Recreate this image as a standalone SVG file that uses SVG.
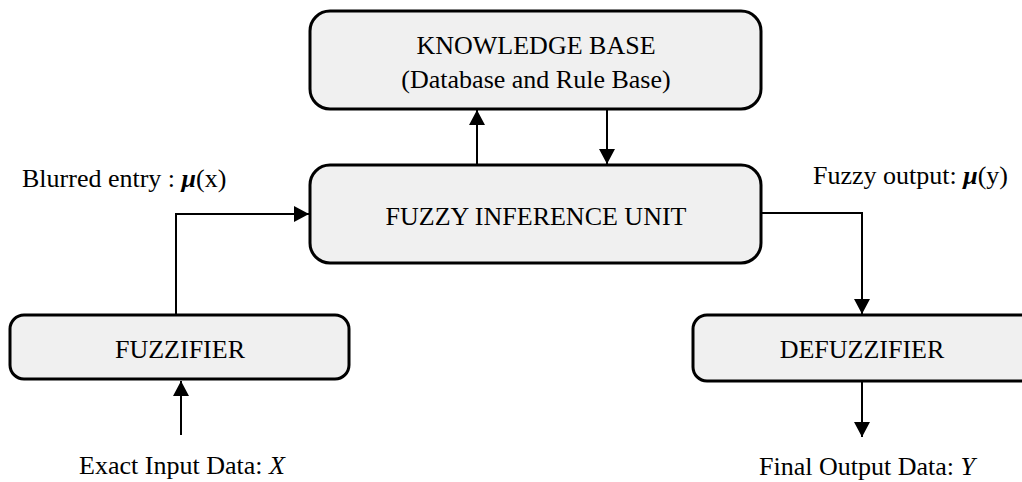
<svg xmlns="http://www.w3.org/2000/svg" width="1022" height="482" viewBox="0 0 1022 482">
  <style>
    .box { fill: #f0f0f0; stroke: #000; stroke-width: 3; }
    .wire { fill: none; stroke: #000; stroke-width: 2; }
    text { font-family: "Liberation Serif", "Times New Roman", serif; font-size: 26px; fill: #000; }
    .c { text-anchor: middle; }
    .mu { font-weight: bold; font-style: italic; }
    .it { font-style: italic; }
  </style>
  <defs>
    <marker id="arrow" markerUnits="userSpaceOnUse" markerWidth="16" markerHeight="16" refX="15" refY="8" orient="auto">
      <path d="M0,0 L15,8 L0,16 Z" fill="#000"/>
    </marker>
  </defs>
  <rect width="1022" height="482" fill="#fff"/>

  <g id="knowledge-base">
    <rect class="box" x="310" y="11" width="451" height="98" rx="20"/>
    <text class="c" x="536" y="54">KNOWLEDGE BASE</text>
    <text class="c" x="536" y="88">(Database and Rule Base)</text>
  </g>

  <g id="inference-unit">
    <rect class="box" x="310" y="165" width="451" height="98" rx="20"/>
    <text class="c" x="536" y="225">FUZZY INFERENCE UNIT</text>
  </g>

  <g id="fuzzifier">
    <rect class="box" x="10" y="315" width="339" height="64" rx="14"/>
    <text class="c" x="180" y="358">FUZZIFIER</text>
  </g>

  <g id="defuzzifier">
    <rect class="box" x="693" y="315" width="345" height="66" rx="14"/>
    <text class="c" x="862" y="358">DEFUZZIFIER</text>
  </g>

  <g id="connectors">
    <line class="wire" x1="181" y1="435" x2="181" y2="381" marker-end="url(#arrow)"/>
    <path class="wire" d="M176,315 V214 H309" marker-end="url(#arrow)"/>
    <line class="wire" x1="477" y1="165" x2="477" y2="110" marker-end="url(#arrow)"/>
    <line class="wire" x1="607" y1="109" x2="607" y2="164" marker-end="url(#arrow)"/>
    <path class="wire" d="M761,213 H862 V314" marker-end="url(#arrow)"/>
    <line class="wire" x1="862" y1="381" x2="862" y2="437" marker-end="url(#arrow)"/>
  </g>

  <g id="labels">
    <text x="22" y="187">Blurred entry : <tspan class="mu">μ</tspan>(x)</text>
    <text x="813" y="184">Fuzzy output: <tspan class="mu">μ</tspan>(y)</text>
    <text class="c" x="182" y="474">Exact Input Data: <tspan class="it">X</tspan></text>
    <text class="c" x="867" y="475">Final Output Data: <tspan class="it">Y</tspan></text>
  </g>
</svg>
